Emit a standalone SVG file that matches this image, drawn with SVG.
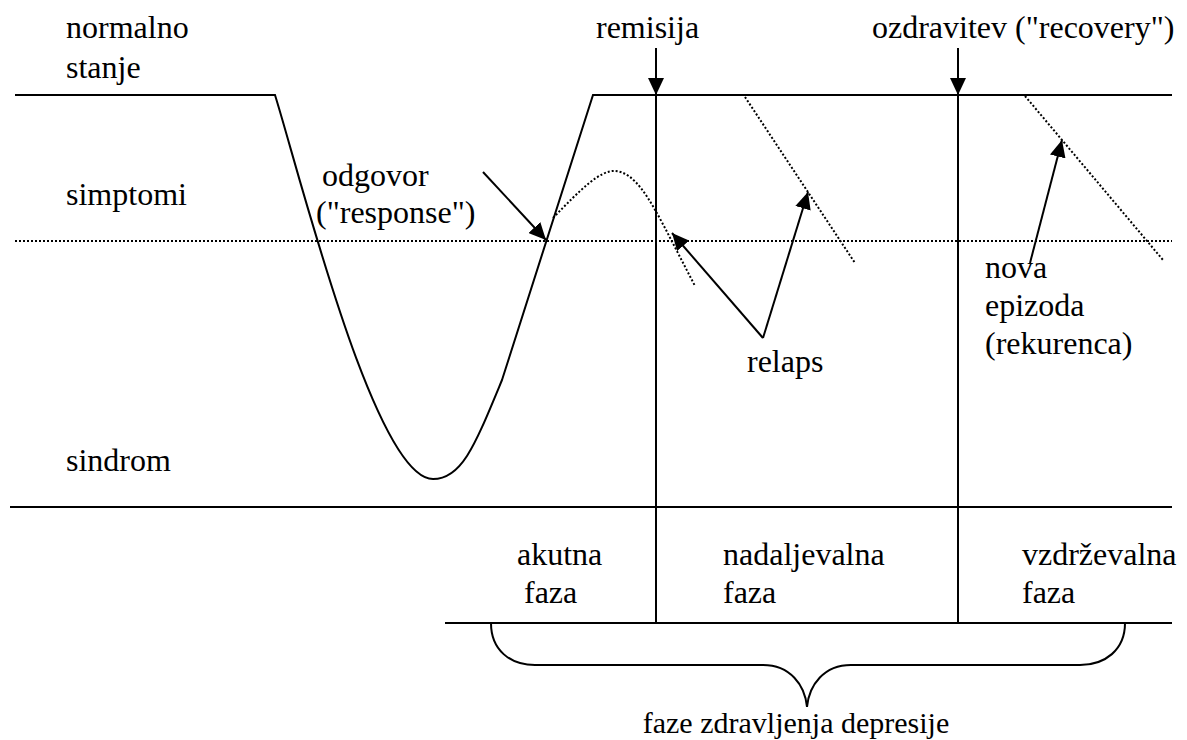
<svg xmlns="http://www.w3.org/2000/svg" width="1187" height="740" viewBox="0 0 1187 740">
<style>
text{font-family:'Liberation Serif','Times New Roman',serif;font-size:32px;fill:#000}
.s{fill:none;stroke:#000;stroke-width:2}
.d{fill:none;stroke:#000;stroke-width:2;stroke-dasharray:2 2}
.a{fill:none;stroke:#000;stroke-width:2;marker-end:url(#ah)}
</style>
<defs>
<marker id="ah" markerUnits="userSpaceOnUse" markerWidth="18" markerHeight="16" refX="17" refY="8" orient="auto">
<path d="M0,0 L17,8 L0,16 Z" fill="#000"/>
</marker>
</defs>
<rect width="1187" height="740" fill="#fff"/>
<g id="levels">
<text x="66" y="38">normalno</text>
<text x="66" y="78">stanje</text>
<text x="66" y="205">simptomi</text>
<text x="66" y="471">sindrom</text>
</g>
<g id="course">
<path class="s" d="M15,95 H275 C300,175 375,479 433,479 C462,479 475,445 502,380 L593,95 H1172"/>
<path class="d" d="M15,241 H1172"/>
<path class="d" d="M553,218 C580,190 600,170 615,171 C635,172 650,200 665,228 L695,286"/>
<path class="d" d="M745,97 L855,263"/>
<path class="d" d="M1025,96 L1163,260"/>
<path class="s" d="M10,507 H1172"/>
<path class="s" d="M445,623 H1172"/>
<path class="s" d="M656,95 V623"/>
<path class="s" d="M958,95 V623"/>
<path class="s" d="M491,623 C491,650 510,665 535,665 H763 C790,665 805,685 807,707 C809,685 824,665 851,665 H1080 C1105,665 1125,650 1125,623"/>
</g>
<g id="connectors">
<path class="a" d="M656,48 V95"/>
<path class="a" d="M958,48 V95"/>
<path class="a" d="M483,172 L546,240"/>
<path class="a" d="M763,338 L672,233"/>
<path class="a" d="M763,338 L808,192"/>
<path class="a" d="M1030,263 L1062,140"/>
</g>
<g id="remisija"><text x="596" y="38">remisija</text></g>
<g id="ozdravitev"><text x="872" y="38">ozdravitev ("recovery")</text></g>
<g id="odgovor"><text x="322" y="186">odgovor</text><text x="316" y="223">("response")</text></g>
<g id="relaps"><text x="747" y="372">relaps</text></g>
<g id="nova"><text x="985" y="278">nova</text><text x="985" y="316">epizoda</text><text x="985" y="354">(rekurenca)</text></g>
<g id="akutna"><text x="517" y="565">akutna</text><text x="524" y="603">faza</text></g>
<g id="nadaljevalna"><text x="723" y="565">nadaljevalna</text><text x="723" y="603">faza</text></g>
<g id="vzdrzevalna"><text x="1022" y="565">vzdrževalna</text><text x="1022" y="603">faza</text></g>
<g id="faze"><text x="796" y="733" text-anchor="middle" style="font-size:30px">faze zdravljenja depresije</text></g>
</svg>
